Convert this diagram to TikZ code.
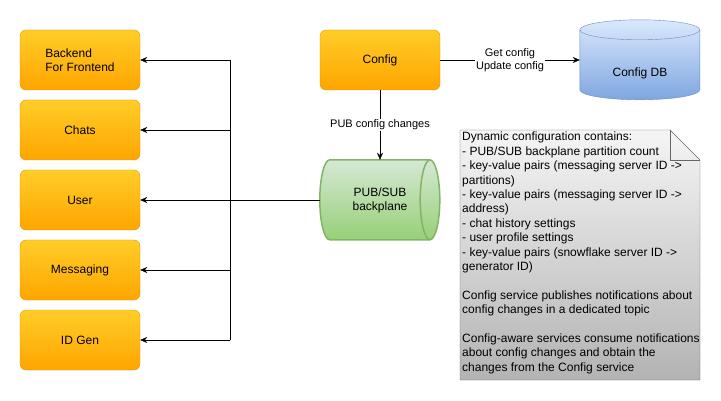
\documentclass[tikz,border=0pt]{standalone}
\usepackage{fontspec}
\setmainfont{Liberation Sans}
\usetikzlibrary{arrows.meta, positioning, backgrounds}
\definecolor{orangetop}{HTML}{FFCD28}
\definecolor{orangebot}{HTML}{FFA500}
\definecolor{orangeline}{HTML}{D79B00}
\definecolor{bluetop}{HTML}{DAE8FC}
\definecolor{bluebot}{HTML}{7EA6E0}
\definecolor{blueline}{HTML}{6C8EBF}
\definecolor{greentop}{HTML}{D5E8D4}
\definecolor{greenbot}{HTML}{97D077}
\definecolor{greenline}{HTML}{82B366}
\definecolor{graytop}{HTML}{F5F5F5}
\definecolor{graybot}{HTML}{B3B3B3}
\definecolor{grayline}{HTML}{666666}
\tikzset{%
	service/.style={
		rectangle,
		rounded corners=6pt,
		draw=orangeline,
		top color=orangetop,
		bottom color=orangebot,
		minimum width=120pt,
		minimum height=60pt,
		align=left,
		font=\fontsize{12}{14}\selectfont
	},
	store/.style={
		rectangle,
		minimum width=120pt,
		minimum height=80pt,
		align=center,
		font=\fontsize{12}{14}\selectfont
	},
	storeshape/.style={draw=blueline, top color=bluetop, bottom color=bluebot},
	pipeshape/.style={draw=greenline, line width=1.5pt, top color=greentop, bottom color=greenbot},
	flow/.style={-{Stealth[length=7pt,width=6pt]}},
	flowlabel/.style={fill=white, inner sep=1pt, align=center, font=\fontsize{11}{13}\selectfont},
}
\begin{document}
\begin{tikzpicture}[x=1pt, y=-1pt]
	\useasboundingbox (0,0) rectangle (721,401);
	\node[service] (bff) at (80,60) {Backend\\For Frontend};
	\node[service] (chats) at (80,130) {Chats};
	\node[service] (user) at (80,200) {User};
	\node[service] (messaging) at (80,270) {Messaging};
	\node[service] (idgen) at (80,340) {ID Gen};
	\node[service] (config) at (380,60) {Config};
	\node[store, label={[yshift=-13pt, font=\fontsize{12}{14}\selectfont]center:Config DB}] (configdb) at (640,60) {};
	\node[store] (pubsub) at (380,200) {PUB/SUB\\backplane};
	
	\begin{scope}[on background layer]
		\path[storeshape] (configdb.north west) ++(0,10) -- ++(0,60)
			arc[start angle=180, end angle=360, x radius=60pt, y radius=10pt] -- ++(0,-60)
			arc[start angle=0, end angle=180, x radius=60pt, y radius=10pt] -- cycle;
		\draw[blueline] (configdb.north west) ++(0,10)
			arc[start angle=180, end angle=360, x radius=60pt, y radius=10pt];
		\path[pipeshape] (pubsub.north west) ++(10,0) -- ++(100,0)
			arc[start angle=90, end angle=-90, x radius=10pt, y radius=40pt] -- ++(-100,0)
			arc[start angle=270, end angle=90, x radius=10pt, y radius=40pt] -- cycle;
		\draw[greenline, line width=1.5pt] (pubsub.north east) ++(-10,0)
			arc[start angle=90, end angle=270, x radius=10pt, y radius=40pt];
	\end{scope}
	
	\coordinate (bustop) at (230,60);
	\coordinate (busbottom) at (230,340);
	
	\draw (bustop) -- (busbottom);
	\draw[flow] (bustop) -- (bff);
	\draw[flow] (bustop |- chats) -- (chats);
	\draw[flow] (pubsub) -- (user);
	\draw[flow] (bustop |- messaging) -- (messaging);
	\draw[flow] (busbottom) -- (idgen);
	\draw[flow] (config) -- node[flowlabel] {Get config\\Update config} (configdb);
	\draw[flow] (config) -- node[flowlabel] {PUB config changes} (pubsub);
	
	\path[draw=grayline, top color=graytop, bottom color=graybot]
		(460,130) -- (670,130) -- (700,160) -- (700,380) -- (460,380) -- cycle;
	\draw[grayline] (670,130) -- (670,160) -- (700,160);
	\node[anchor=north west, inner sep=0pt, align=left, font=\fontsize{12}{14.4}\selectfont] (notes) at (462,132) {Dynamic configuration contains:\\
		- PUB/SUB backplane partition count\\
		- key-value pairs (messaging server ID ->\\
		partitions)\\
		- key-value pairs (messaging server ID ->\\
		address)\\
		- chat history settings\\
		- user profile settings\\
		- key-value pairs (snowflake server ID ->\\
		generator ID)\\[14.4pt]
		Config service publishes notifications about\\
		config changes in a dedicated topic\\[14.4pt]
		Config-aware services consume notifications\\
		about config changes and obtain the\\
		changes from the Config service};
\end{tikzpicture}
\end{document}
